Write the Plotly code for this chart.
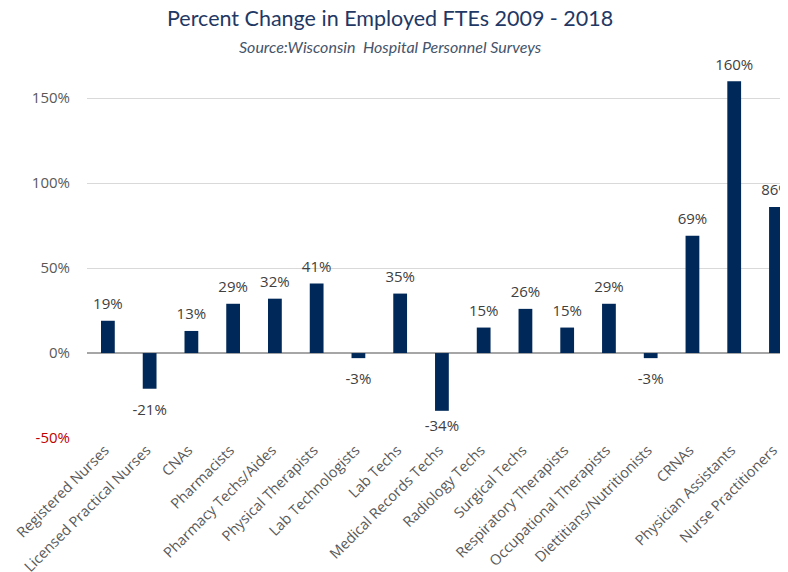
import plotly.graph_objects as go

categories = ["Registered Nurses", "Licensed Practical Nurses", "CNAs", "Pharmacists",
              "Pharmacy Techs/Aides", "Physical Therapists", "Lab Technologists", "Lab Techs",
              "Medical Records Techs", "Radiology Techs", "Surgical Techs", "Respiratory Therapists",
              "Occupational Therapists", "Diettitians/Nutritionists", "CRNAs",
              "Physician Assistants", "Nurse Practitioners"]
values = [19, -21, 13, 29, 32, 41, -3, 35, -34, 15, 26, 15, 29, -3, 69, 160, 86]
tick_vals = [-50, 0, 50, 100, 150]
tick_text = ["<span style='color:#C00000'>-50%</span>", "0%", "50%", "100%", "150%"]

labels = [f"{v}%" for v in values]
label_pos = ["top center" if v >= 0 else "bottom center" for v in values]
# invisible marker sizes only set the gap between a bar end and its label
label_gap = [11, 22, 11, 11, 11, 11, 22, 11, 13, 11, 11, 11, 11, 22, 11, 11, 11]

fig = go.Figure()
fig.add_trace(go.Bar(
    x=categories, y=values, width=0.33,
    marker=dict(color="#002858", line=dict(width=0)),
    hoverinfo="x+y",
))
fig.add_trace(go.Scatter(
    x=categories, y=values, mode="markers+text", text=labels, textposition=label_pos,
    marker=dict(size=label_gap, opacity=0), cliponaxis=False, hoverinfo="skip",
    textfont=dict(family="Open Sans", size=15, color="#404040"),
))

# the page body has an 8px margin, so layout positions are given 8px less
L = 79
W = 788
cx = (386 - L - 4) / (W - L)

fig.update_layout(
    width=W, height=572,
    margin=dict(l=L, r=0, t=63, b=142, autoexpand=False),
    paper_bgcolor="white", plot_bgcolor="white",
    showlegend=False,
    annotations=[
        dict(text="Percent Change in Employed FTEs 2009 - 2018", x=cx, y=1, xref="paper", yref="paper",
             xanchor="center", yanchor="middle", showarrow=False,
             font=dict(family="Lato", size=21.5, color="#1F3864"), yshift=53),
        dict(text="<i>Source:Wisconsin&nbsp; Hospital Personnel Surveys</i>", x=cx, y=1, xref="paper", yref="paper",
             xanchor="center", yanchor="middle", showarrow=False,
             font=dict(family="Lato", size=16, color="#44546A"), yshift=25),
    ],
)
fig.update_xaxes(range=[-0.5, 16.48], tickangle=-45, showgrid=False, showline=False,
                 automargin=False, ticklabelshift=-3,
                 tickfont=dict(family="Open Sans", size=14.5, color="#595959"), ticks="")
fig.update_yaxes(range=[-50, 166], tickvals=tick_vals, ticktext=tick_text, automargin=False,
                 showgrid=True, gridcolor="#D9D9D9", gridwidth=1,
                 zeroline=True, zerolinecolor="#A6A6A6", zerolinewidth=1.5,
                 tickfont=dict(family="Open Sans", size=15, color="#595959"), ticks="",
                 ticklabelstandoff=16)

fig.write_html("out.html")
